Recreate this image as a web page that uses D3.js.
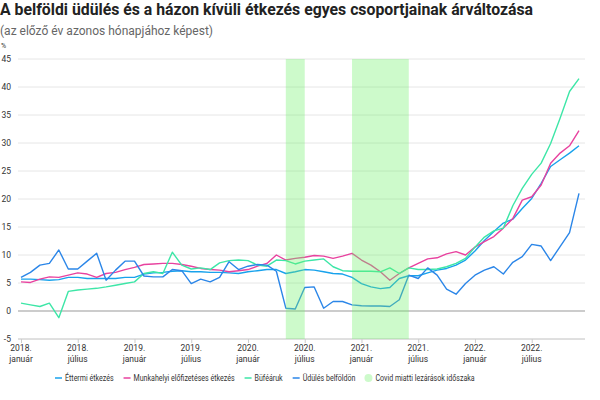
<!DOCTYPE html>
<html>
<head>
<meta charset="utf-8">
<script src="https://cdn.jsdelivr.net/npm/d3@7"></script>
<style>
  body { margin: 0; background: #fff; }
  svg { font-family: Roboto, "Noto Sans", sans-serif; }
</style>
</head>
<body>
<div class="chart"></div>
<script>
var svgWidth = 600;
var svgHeight = 400;

// months Jan 2018 - Dec 2022, one value per month
var years = ["2018", "2019", "2020", "2021", "2022"];
var monthNames = ["január", "február", "március", "április", "május", "június",
  "július", "augusztus", "szeptember", "október", "november", "december"];
var months = [];
years.forEach(function(y) {
  monthNames.forEach(function(m) { months.push(y + ". " + m); });
});

var tickMonths = ["2018. január", "2018. július", "2019. január", "2019. július",
  "2020. január", "2020. július", "2021. január", "2021. július",
  "2022. január", "2022. július"];
var yTicks = [-5, 0, 5, 10, 15, 20, 25, 30, 35, 40, 45];

// lockdown periods (start month, end month)
var covidStart = ["2020. május", "2020. december"];
var covidEnd = ["2020. július", "2021. június"];

var seriesNames = ["Éttermi étkezés", "Munkahelyi előfizetéses étkezés", "Büféáruk", "Üdülés belföldön"];
var seriesColors = ["#18a2ec", "#e8429f", "#3de6a7", "#2b86e8"];

var etterm = [5.7, 5.7, 5.6, 5.5, 5.6, 6.0, 6.0, 5.8, 5.8, 5.8, 5.8, 6.0,
  6.0, 6.6, 6.8, 6.9, 7.1, 7.2, 7.0, 7.0, 6.9, 6.9, 6.8, 6.7,
  7.0, 7.2, 7.4, 7.4, 6.7, 7.0, 7.4, 7.3, 7.0, 6.7, 6.6, 6.0,
  4.9, 4.3, 4.0, 4.2, 5.8, 6.3, 6.3, 6.8, 7.3, 7.6, 8.2, 9.1,
  10.7, 12.6, 14.2, 15.7, 16.4, 18.3, 20.1, 22.8, 25.8, 27.0, 28.2, 29.5];

var munkahelyi = [5.2, 5.1, 5.7, 6.1, 6.0, 6.4, 6.8, 6.6, 6.0, 6.7, 6.9, 7.4,
  7.8, 8.3, 8.4, 8.5, 8.5, 8.3, 8.0, 7.6, 7.4, 7.3, 7.0, 7.2,
  7.4, 8.0, 8.5, 10.0, 9.1, 9.4, 9.6, 9.9, 9.8, 9.4, 9.8, 10.3,
  9.1, 8.2, 7.0, 5.5, 6.7, 7.7, 8.5, 9.3, 9.5, 10.2, 10.6, 10.0,
  11.4, 12.4, 13.3, 14.8, 16.5, 19.8, 20.4, 22.5, 26.4, 28.2, 29.5, 32.2];

var bufe = [1.4, 1.1, 0.8, 1.4, -1.2, 3.5, 3.75, 3.9, 4.05, 4.3, 4.6, 4.9,
  5.2, 6.7, 7.0, 6.7, 10.5, 8.2, 7.5, 7.7, 7.4, 8.6, 9.0, 9.1,
  9.0, 8.2, 8.0, 9.1, 9.0, 8.4, 8.9, 9.1, 9.3, 7.9, 7.2, 7.1,
  7.1, 7.1, 7.0, 7.7, 6.7, 7.7, 7.4, 7.4, 7.5, 7.9, 8.5, 9.4,
  11.4, 13.2, 14.3, 14.8, 18.8, 21.9, 24.4, 26.4, 29.9, 34.4, 39.2, 41.5];

var udules = [6.0, 6.9, 8.2, 8.5, 10.9, 7.5, 7.5, 8.9, 10.3, 5.5, 7.3, 8.9,
  8.9, 6.25, 6.1, 6.1, 7.4, 7.2, 4.9, 5.7, 5.2, 6.0, 8.8, 7.4,
  8.0, 8.3, 8.2, 7.1, 0.5, 0.35, 4.2, 4.3, 0.5, 1.7, 1.7, 1.1,
  0.95, 0.9, 0.9, 0.8, 2.0, 6.4, 5.8, 7.7, 6.4, 3.9, 3.0, 4.9,
  6.4, 7.3, 7.9, 6.6, 8.7, 9.7, 11.9, 11.6, 9.0, 11.5, 14.0, 21.0];

var seriesValues = [etterm, munkahelyi, bufe, udules];

var svg = d3.select(".chart")
  .append("svg")
  .attr("width", svgWidth)
  .attr("height", svgHeight);

// title
svg.append("text")
  .attr("x", 0)
  .attr("y", 15)
  .style("font-size", "15.8px")
  .style("font-weight", "bold")
  .style("fill", "#222")
  .text("A belföldi üdülés és a házon kívüli étkezés egyes csoportjainak árváltozása");

svg.append("text")
  .attr("x", 0)
  .attr("y", 35)
  .style("font-size", "12px")
  .style("fill", "#666")
  .text("(az előző év azonos hónapjához képest)");

var x = d3.scaleLinear()
  .domain([0, months.length - 1])
  .range([21, 579]);

var y = d3.scaleLinear()
  .domain([-5, 45])
  .range([339, 59]);

var gridLeft = 18, gridRight = 585;

// grid lines
svg.append("g")
  .selectAll("line")
  .data(yTicks)
  .enter()
  .append("line")
  .attr("x1", gridLeft)
  .attr("x2", gridRight)
  .attr("y1", d => y(d))
  .attr("y2", d => y(d))
  .attr("stroke", d => d === 0 ? "#999" : "#e6e6e6")
  .attr("stroke-width", d => d === 0 ? 1.2 : 1);

// y labels
svg.append("g")
  .selectAll("text")
  .data(yTicks)
  .enter()
  .append("text")
  .attr("x", 11)
  .attr("y", d => y(d))
  .attr("dy", "0.35em")
  .attr("text-anchor", "end")
  .style("font-size", "8.5px")
  .style("fill", "#333")
  .text(d => d);

svg.append("text")
  .attr("x", 1)
  .attr("y", 48)
  .style("font-size", "7px")
  .style("fill", "#333")
  .text("%");

// x axis
var bottomAxis = d3.axisBottom(x)
  .tickValues(tickMonths.map(m => months.indexOf(m)))
  .tickSize(4)
  .tickFormat("");

var xAxis = svg.append("g")
  .attr("transform", "translate(0, 339)")
  .call(bottomAxis);
xAxis.select(".domain")
  .attr("d", `M${gridLeft},0H${gridRight}`)
  .attr("stroke", "#ccc");
xAxis.selectAll(".tick line").attr("stroke", "#ccc");

var xLabels = svg.append("g")
  .selectAll("text")
  .data(tickMonths)
  .enter()
  .append("text")
  .attr("x", d => x(months.indexOf(d)))
  .attr("y", 351)
  .attr("text-anchor", "middle")
  .style("font-size", "8.5px")
  .style("fill", "#333");
xLabels.append("tspan")
  .attr("x", d => x(months.indexOf(d)))
  .text(d => d.split(" ")[0]);
xLabels.append("tspan")
  .attr("x", d => x(months.indexOf(d)))
  .attr("dy", 11)
  .text(d => d.split(" ")[1]);

// lines
var line = d3.line()
  .x((d, i) => x(i))
  .y(d => y(d));

svg.append("g")
  .selectAll("path")
  .data(seriesValues)
  .enter()
  .append("path")
  .attr("d", line)
  .attr("fill", "none")
  .attr("stroke", (d, i) => seriesColors[i])
  .attr("stroke-width", 1.4)
  .attr("stroke-linejoin", "round");

// covid bands, drawn on top with transparency
svg.append("g")
  .selectAll("rect")
  .data(covidStart)
  .enter()
  .append("rect")
  .attr("x", d => x(months.indexOf(d)))
  .attr("y", y(45))
  .attr("width", (d, i) => x(months.indexOf(covidEnd[i])) - x(months.indexOf(d)))
  .attr("height", y(-5) - y(45))
  .attr("fill", "#6ff06a")
  .attr("opacity", 0.35);

// legend (condensed text like the original)
var legend = svg.append("g").attr("transform", "translate(55, 378)");
var lx = 0;
function legendText(px, label) {
  var t = legend.append("text")
    .attr("x", px)
    .attr("y", 0)
    .attr("dy", "0.35em")
    .style("font-size", "8.5px")
    .style("fill", "#333")
    .text(label);
  var w = t.node().getComputedTextLength() * 0.83;
  t.attr("textLength", w).attr("lengthAdjust", "spacingAndGlyphs");
  return w;
}
seriesNames.forEach(function(name, i) {
  legend.append("line")
    .attr("x1", lx).attr("x2", lx + 7)
    .attr("y1", 0).attr("y2", 0)
    .attr("stroke", seriesColors[i])
    .attr("stroke-width", 1.5);
  var w = legendText(lx + 10, name);
  lx += 10 + w + 10;
});
legend.append("circle")
  .attr("cx", lx + 3)
  .attr("cy", 0)
  .attr("r", 4)
  .attr("fill", "#6ff06a")
  .attr("opacity", 0.35);
legendText(lx + 10, "Covid miatti lezárások időszaka");
</script>
</body>
</html>
